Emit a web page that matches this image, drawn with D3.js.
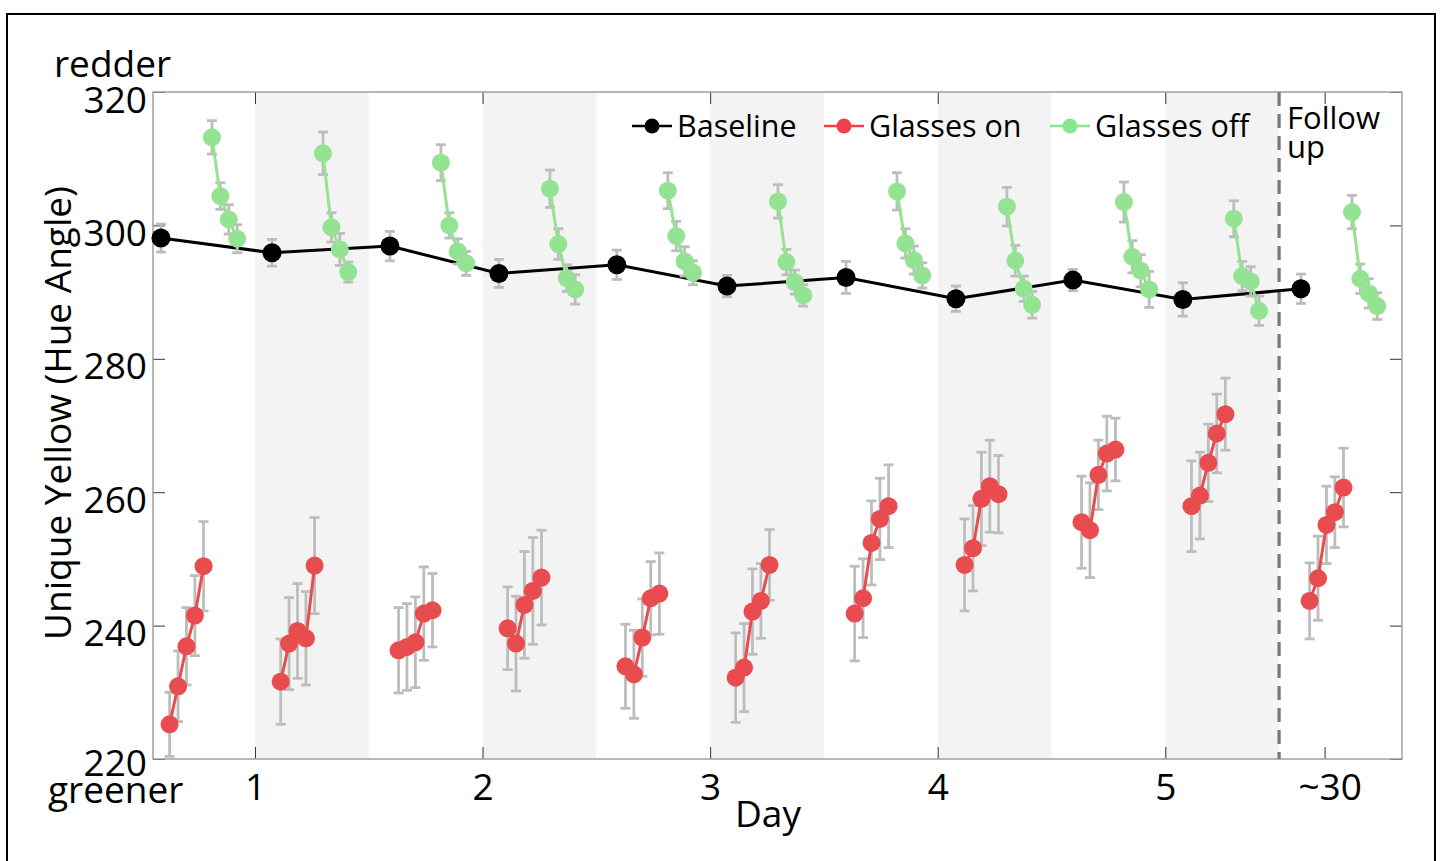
<!DOCTYPE html>
<html><head><meta charset="utf-8">
<script src="https://cdn.jsdelivr.net/npm/d3@7"></script>
<style>
body{margin:0;background:#fff;}
svg{display:block;font-family:'Open Sans',sans-serif;}
</style>
</head><body>
<svg id="chart" width="1440" height="861"></svg>
<script>
// ---------- data ----------
const dayTicks = [1, 2, 3, 4, 5, 5.7];
const dayTickLabels = ["1", "2", "3", "4", "5", "~30"];
const yTicks = [220, 240, 260, 280, 300, 320];
const shadedStart = [1, 2, 3, 4, 5];
const shadedEnd = [1.5, 2.5, 3.5, 4.5, 5.5];
const followUpDay = 5.5;

// baseline measurement time (day units) for each of the 11 sessions
const baselineDay = [0.587, 1.075, 1.593, 2.072, 2.590, 3.074, 3.597, 4.080, 4.594, 5.077, 5.596];
const baselineVal = [298.1, 295.9, 296.9, 292.8, 294.1, 290.9, 292.2, 289.0, 291.8, 288.9, 290.5];
const baselineErr = [2.1, 2.0, 2.2, 2.1, 2.2, 1.6, 2.4, 1.9, 1.6, 2.5, 2.2];

// measurement times after the baseline within a session (days)
const onOffsets = [0.038, 0.075, 0.112, 0.149, 0.187];
const offOffsets = [0.224, 0.261, 0.298, 0.335];

// Glasses on (5 per session)
const onS1 = [225.2, 230.9, 236.9, 241.5, 248.9];
const onS2 = [231.6, 237.3, 239.2, 238.1, 249.0];
const onS3 = [236.3, 236.8, 237.5, 241.8, 242.3];
const onS4 = [239.6, 237.3, 243.1, 245.2, 247.2];
const onS5 = [233.9, 232.7, 238.2, 244.1, 244.8];
const onS6 = [232.2, 233.7, 242.1, 243.7, 249.1];
const onS7 = [241.8, 244.1, 252.4, 256.0, 257.9];
const onS8 = [249.1, 251.6, 259.0, 260.9, 259.7];
const onS9 = [255.5, 254.3, 262.6, 265.8, 266.4];
const onS10 = [257.9, 259.5, 264.4, 268.8, 271.7];
const onS11 = [243.7, 247.1, 255.1, 257.0, 260.7];
const onErrS1 = [4.8, 5.3, 5.8, 6.0, 6.7];
const onErrS2 = [6.4, 6.9, 7.1, 7.0, 7.2];
const onErrS3 = [6.4, 6.5, 6.8, 7.0, 5.5];
const onErrS4 = [6.2, 7.1, 8.0, 8.0, 7.1];
const onErrS5 = [6.3, 6.6, 5.8, 5.5, 6.1];
const onErrS6 = [6.7, 6.6, 6.4, 5.6, 5.3];
const onErrS7 = [7.1, 5.9, 6.3, 6.1, 6.2];
const onErrS8 = [6.9, 6.4, 7.0, 6.9, 5.8];
const onErrS9 = [6.9, 7.1, 5.2, 5.6, 4.7];
const onErrS10 = [6.8, 6.5, 5.8, 5.9, 5.4];
const onErrS11 = [5.7, 6.3, 5.8, 5.3, 5.9];

// Glasses off (4 per session)
const offS1 = [313.2, 304.4, 300.9, 298.0];
const offS2 = [310.8, 299.7, 296.4, 293.0];
const offS3 = [309.4, 300.0, 296.1, 294.3];
const offS4 = [305.5, 297.2, 292.1, 290.4];
const offS5 = [305.2, 298.4, 294.6, 292.9];
const offS6 = [303.6, 294.5, 291.5, 289.5];
const offS7 = [305.1, 297.3, 294.8, 292.5];
const offS8 = [302.8, 294.7, 290.5, 288.1];
const offS9 = [303.5, 295.3, 293.2, 290.4];
const offS10 = [301.0, 292.4, 291.6, 287.2];
const offS11 = [302.0, 292.0, 289.8, 287.9];
const offErrS1 = [2.5, 2.0, 2.2, 2.1];
const offErrS2 = [3.2, 2.2, 2.4, 1.5];
const offErrS3 = [2.7, 1.9, 1.9, 1.8];
const offErrS4 = [2.8, 2.3, 2.0, 2.2];
const offErrS5 = [2.7, 2.2, 2.2, 1.8];
const offErrS6 = [2.5, 1.9, 1.8, 1.6];
const offErrS7 = [2.8, 2.2, 2.1, 1.9];
const offErrS8 = [2.9, 2.3, 1.9, 2.0];
const offErrS9 = [3.0, 2.4, 2.4, 2.7];
const offErrS10 = [2.7, 2.2, 2.2, 2.2];
const offErrS11 = [2.5, 2.2, 2.2, 2.0];

const legendLabels = ["Baseline", "Glasses on", "Glasses off"];

// ---------- build ----------
const onVals = [onS1,onS2,onS3,onS4,onS5,onS6,onS7,onS8,onS9,onS10,onS11];
const onErrs = [onErrS1,onErrS2,onErrS3,onErrS4,onErrS5,onErrS6,onErrS7,onErrS8,onErrS9,onErrS10,onErrS11];
const offVals = [offS1,offS2,offS3,offS4,offS5,offS6,offS7,offS8,offS9,offS10,offS11];
const offErrs = [offErrS1,offErrS2,offErrS3,offErrS4,offErrS5,offErrS6,offErrS7,offErrS8,offErrS9,offErrS10,offErrS11];

const C = {black:'#000000', red:'#e84c4e', green:'#93e393', legRed:'#f0404a', legGreen:'#88e690', err:'#bdbdbd', band:'#f3f3f3'};
const L = 153, R = 1402, T = 92, B = 759;

const svg = d3.select('#chart');
const x = d3.scaleLinear().domain([0.552, 6.04]).range([L, R]);
const y = d3.scaleLinear().domain([220, 320]).range([B, T]);

// outer frame
svg.append('rect').attr('x', 7).attr('y', 14).attr('width', 1428).attr('height', 870)
  .attr('fill', 'none').attr('stroke', '#000').attr('stroke-width', 2);

// shaded bands
svg.append('g').selectAll('rect').data(shadedStart).join('rect')
  .attr('x', d => x(d)).attr('y', T)
  .attr('width', (d, i) => x(shadedEnd[i]) - x(d)).attr('height', B - T)
  .attr('fill', C.band);

// axes
function styleAxis(g) {
  g.select('.domain').remove();
  g.selectAll('.tick line').attr('stroke', '#333').attr('stroke-width', 1);
  g.selectAll('.tick text').attr('fill', '#000').attr('font-family', "'Open Sans',sans-serif");
}
const gl = svg.append('g').attr('transform', `translate(${L},0)`)
  .call(d3.axisLeft(y).tickValues(yTicks).tickSizeInner(-12).tickSizeOuter(0).tickPadding(6));
styleAxis(gl);
gl.selectAll('.tick text').attr('font-size', 37).attr('dy', 0)
  .attr('y', d => d === 220 ? 16 : 20);

svg.append('g').attr('transform', `translate(${R},0)`)
  .call(d3.axisRight(y).tickValues(yTicks).tickSizeInner(-12).tickSizeOuter(0).tickFormat(''))
  .call(styleAxis);
svg.append('g').attr('transform', `translate(0,${T})`)
  .call(d3.axisTop(x).tickValues(dayTicks).tickSizeInner(-12).tickSizeOuter(0).tickFormat(''))
  .call(styleAxis);
const gb = svg.append('g').attr('transform', `translate(0,${B})`)
  .call(d3.axisBottom(x).tickValues(dayTicks).tickSizeInner(-12).tickSizeOuter(0)
    .tickFormat((d, i) => dayTickLabels[i]));
styleAxis(gb);
gb.selectAll('.tick text').attr('font-size', 37).attr('dy', 0).attr('y', 41)
  .attr('x', (d, i) => dayTickLabels[i] === '~30' ? 5 : 0);

// box
svg.append('rect').attr('x', L).attr('y', T).attr('width', R - L).attr('height', B - T)
  .attr('fill', 'none').attr('stroke', '#a0a0a0').attr('stroke-width', 1.5);

// follow-up dashed line
svg.append('line').attr('x1', x(followUpDay)).attr('x2', x(followUpDay))
  .attr('y1', T).attr('y2', B)
  .attr('stroke', '#777').attr('stroke-width', 3.2).attr('stroke-dasharray', '14,8');

// error bars helper
function errorBars(g, pts) {
  const eb = g.append('g').selectAll('g').data(pts).join('g');
  eb.append('line').attr('x1', d => x(d.x)).attr('x2', d => x(d.x))
    .attr('y1', d => y(d.v - d.e)).attr('y2', d => y(d.v + d.e))
    .attr('stroke', C.err).attr('stroke-width', 2.8);
  eb.append('line').attr('x1', d => x(d.x) - 5).attr('x2', d => x(d.x) + 5)
    .attr('y1', d => y(d.v - d.e)).attr('y2', d => y(d.v - d.e))
    .attr('stroke', C.err).attr('stroke-width', 2.8);
  eb.append('line').attr('x1', d => x(d.x) - 5).attr('x2', d => x(d.x) + 5)
    .attr('y1', d => y(d.v + d.e)).attr('y2', d => y(d.v + d.e))
    .attr('stroke', C.err).attr('stroke-width', 2.8);
}
const line = d3.line().x(d => x(d.x)).y(d => y(d.v));

// baseline series
const basePts = baselineDay.map((d, i) => ({x: d, v: baselineVal[i], e: baselineErr[i]}));
const gBase = svg.append('g');
errorBars(gBase, basePts);
gBase.append('path').datum(basePts).attr('d', line).attr('fill', 'none')
  .attr('stroke', C.black).attr('stroke-width', 3);
gBase.append('g').selectAll('circle').data(basePts).join('circle')
  .attr('cx', d => x(d.x)).attr('cy', d => y(d.v)).attr('r', 9.5).attr('fill', C.black);

// glasses on
const onSessions = onVals.map((vals, s) => vals.map((v, j) => ({x: baselineDay[s] + onOffsets[j], v, e: onErrs[s][j]})));
const gOn = svg.append('g');
onSessions.forEach(pts => errorBars(gOn, pts));
onSessions.forEach(pts => {
  gOn.append('path').datum(pts).attr('d', line).attr('fill', 'none')
    .attr('stroke', C.red).attr('stroke-width', 3);
  gOn.append('g').selectAll('circle').data(pts).join('circle')
    .attr('cx', d => x(d.x)).attr('cy', d => y(d.v)).attr('r', 9).attr('fill', C.red);
});

// glasses off
const offSessions = offVals.map((vals, s) => vals.map((v, j) => ({x: baselineDay[s] + offOffsets[j], v, e: offErrs[s][j]})));
const gOff = svg.append('g');
offSessions.forEach(pts => errorBars(gOff, pts));
offSessions.forEach(pts => {
  gOff.append('path').datum(pts).attr('d', line).attr('fill', 'none')
    .attr('stroke', C.green).attr('stroke-width', 3);
  gOff.append('g').selectAll('circle').data(pts).join('circle')
    .attr('cx', d => x(d.x)).attr('cy', d => y(d.v)).attr('r', 9).attr('fill', C.green);
});

// legend
const legX = [632, 824, 1050];
const legCol = [C.black, C.legRed, C.legGreen];
const lg = svg.append('g');
legendLabels.forEach((lab, i) => {
  const g = lg.append('g').attr('transform', `translate(${legX[i]},126)`);
  g.append('line').attr('x1', 0).attr('x2', 40).attr('y1', 0).attr('y2', 0)
    .attr('stroke', legCol[i]).attr('stroke-width', 2.5);
  g.append('circle').attr('cx', 20).attr('cy', 0).attr('r', 7.5).attr('fill', legCol[i]);
  g.append('text').attr('x', 45).attr('y', 11).attr('font-size', 30.5).text(lab);
});

// texts
svg.append('text').attr('x', 54).attr('y', 77).attr('font-size', 37).text('redder');
svg.append('text').attr('x', 48).attr('y', 803).attr('font-size', 37).text('greener');
svg.append('text').attr('x', 768).attr('y', 827).attr('font-size', 37).attr('text-anchor', 'middle').text('Day');
svg.append('text').attr('transform', 'translate(71,413) rotate(-90)').attr('font-size', 37)
  .attr('text-anchor', 'middle').text('Unique Yellow (Hue Angle)');
svg.append('text').attr('x', 1287).attr('y', 129).attr('font-size', 31).text('Follow');
svg.append('text').attr('x', 1287).attr('y', 158).attr('font-size', 31).text('up');
</script>
</body></html>
